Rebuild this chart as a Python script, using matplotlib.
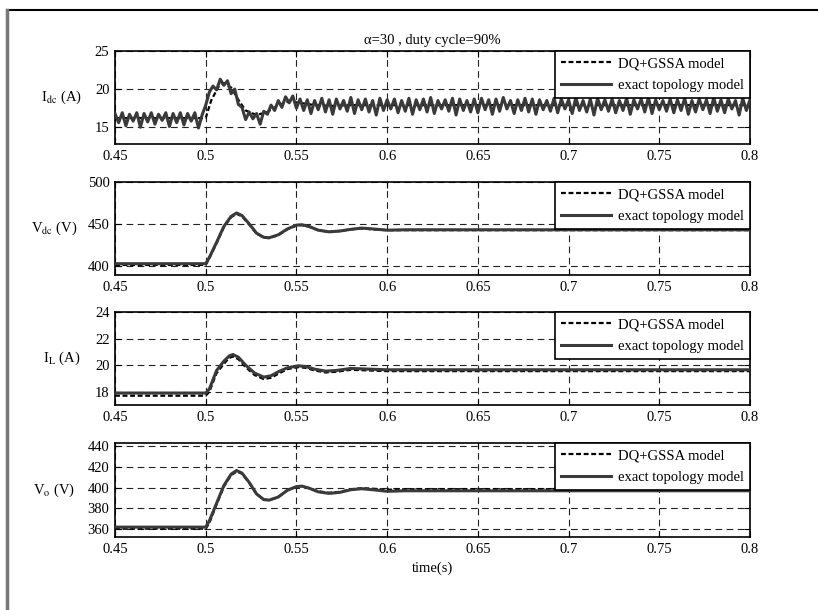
import numpy as np
import matplotlib.pyplot as plt
from matplotlib.lines import Line2D

plt.rcParams['font.family'] = ['Liberation Serif', 'DejaVu Serif']
plt.rcParams['mathtext.fontset'] = 'stix'

# ---- data ----
# I_dc, exact topology model, sampled every 2 ms from 0.45 s
t_idc = np.round(0.45 + 0.002 * np.arange(176), 3)
idc_exact = [
    16.8, 15.6, 16.9, 15.2, 16.7, 15.8, 16.9, 15.0, 16.8, 15.7,
    16.9, 15.4, 16.7, 15.9, 16.9, 15.1, 16.8, 15.6, 16.9, 15.3,
    16.8, 15.8, 16.9, 14.9, 16.6,
    17.9, 19.6, 20.4, 19.9, 21.3, 20.5, 21.1, 19.4, 20.0, 18.0,
    17.6, 16.0, 17.0, 16.1, 16.8, 15.4, 17.1, 16.7, 17.9, 17.2,
    18.5, 17.6, 19.0, 18.2, 19.1, 17.5, 18.7, 17.2, 18.6, 16.8,
    18.5,
    17.3, 18.8, 17.0, 18.6, 16.7, 18.7, 17.4, 18.5, 17.1, 18.9,
    16.8, 18.6, 17.3, 18.7, 17.0, 18.5, 16.6, 18.8, 17.2, 18.6,
    17.4, 18.7, 16.9, 18.5, 17.1, 18.8, 16.7, 18.6, 17.3, 18.7,
    17.0, 18.9, 16.8, 18.5, 17.4, 18.6, 17.1, 18.8, 16.6, 18.7,
    17.2, 18.5, 17.0, 18.7, 16.9, 18.8, 17.3, 18.6, 16.7, 18.7,
    17.1, 18.9, 17.4, 18.5, 16.8, 18.6, 17.2, 18.8, 17.0, 18.7,
    16.7, 18.6, 17.3, 18.5, 17.1, 18.8, 16.9, 18.7, 17.4, 18.6,
    16.8, 18.9, 17.2, 18.5, 17.0, 18.7, 16.6, 18.8, 17.3, 18.6,
    17.1, 18.7, 16.9, 18.5, 17.2, 18.8, 16.7, 18.6, 17.4, 18.7,
    17.0, 18.9, 16.8, 18.6, 17.3, 18.5, 17.1, 18.7, 16.9, 18.6,
    17.2, 18.8, 16.7, 18.5, 17.0, 18.7, 17.3, 18.6, 16.8, 18.9,
    17.1, 18.6, 16.9, 18.7, 17.4, 18.5, 16.6, 18.8, 17.2, 18.6,
]
t_idc_dq = [0.45, 0.5, 0.503, 0.507, 0.51, 0.514, 0.518, 0.522, 0.528, 0.534,
            0.54, 0.546, 0.552, 0.56, 0.57, 0.58, 0.6, 0.8]
idc_dq = [16.2, 16.2, 18.5, 20.3, 20.8, 20.2, 18.6, 17.2, 16.6, 17.0,
          17.9, 18.4, 18.2, 17.9, 17.8, 17.9, 17.9, 17.9]

# V_dc
t_vdc = [0.45, 0.5, 0.502, 0.506, 0.51, 0.514, 0.517, 0.52, 0.524, 0.528,
         0.532, 0.535, 0.54, 0.545, 0.55, 0.553, 0.557, 0.562, 0.568, 0.574,
         0.58, 0.586, 0.592, 0.6, 0.61, 0.62, 0.8]
vdc_exact = [402.5, 402.5, 410, 428, 447, 459, 463, 460, 450, 439,
             434, 433.5, 437, 444, 448.5, 449, 447, 442.5, 440.5, 441.5,
             443.5, 445, 444, 442.5, 443, 443, 443]
vdc_dq = [401, 401, 409, 427, 446, 458, 462, 459, 449, 438.5,
          433.5, 433, 436.5, 443.5, 448, 448.5, 446.5, 442.5, 440.5, 441.5,
          443.5, 444.5, 443.5, 442.5, 442.5, 442.5, 442.5]

# I_L
t_il = [0.45, 0.5, 0.502, 0.506, 0.51, 0.513, 0.515, 0.518, 0.522, 0.527,
        0.532, 0.536, 0.54, 0.545, 0.551, 0.555, 0.56, 0.566, 0.572, 0.58,
        0.59, 0.6, 0.8]
il_exact = [17.9, 17.9, 18.2, 19.6, 20.3, 20.7, 20.8, 20.6, 20.0, 19.4,
            19.1, 19.2, 19.5, 19.8, 19.95, 19.9, 19.7, 19.55, 19.6, 19.75,
            19.7, 19.65, 19.65]
il_dq = [17.7, 17.7, 18.0, 19.4, 20.1, 20.55, 20.65, 20.45, 19.85, 19.25,
         18.95, 19.05, 19.35, 19.7, 19.85, 19.8, 19.6, 19.45, 19.5, 19.65,
         19.6, 19.55, 19.55]

# V_o
t_vo = t_vdc
vo_exact = [362, 362, 368, 385, 402, 413, 416.5, 414, 405, 394,
            388.5, 388, 391, 397.5, 401, 401.5, 399.5, 396, 394.5, 395.5,
            398, 399, 398, 396.5, 397, 397, 397]
vo_dq = [360.5, 360.5, 366, 384, 401, 412, 415.5, 413.5, 404.5, 394,
         388.5, 388, 391, 397.5, 401, 401.5, 399.5, 396.5, 395, 396,
         398.5, 399.5, 399, 398, 398.5, 398.5, 398.5]

panels = [
    (t_idc, idc_exact, t_idc_dq, idc_dq, r'I$_{\rm dc}$ (A)', (12.8, 25), [15, 20, 25]),
    (t_vdc, vdc_exact, t_vdc, vdc_dq, r'V$_{\rm dc}$ (V)', (389, 500), [400, 450, 500]),
    (t_il, il_exact, t_il, il_dq, r'I$_{\rm L}$ (A)', (17, 24), [18, 20, 22, 24]),
    (t_vo, vo_exact, t_vo, vo_dq, r'V$_{\rm o}$ (V)', (352.5, 443), [360, 380, 400, 420, 440]),
]

W, H = 818, 610
fig = plt.figure(figsize=(W / 100, H / 100), dpi=100)

# axes placement in pixels (top, bottom)
rows = [(51, 144), (182, 275), (312, 405), (443, 537)]
left, right = 115, 750

xticks = [0.45, 0.5, 0.55, 0.6, 0.65, 0.7, 0.75, 0.8]

for i, ((te, ye, td, yd, lab, ylim, yt), (top, bot)) in enumerate(zip(panels, rows)):
    ax = fig.add_axes([left / W, 1 - bot / H, (right - left) / W, (bot - top) / H])
    ax.plot(td, yd, color='k', ls='--', lw=1.6, dashes=(2.2, 1.2), label='DQ+GSSA model', zorder=2)
    ax.plot(te, ye, color='#3a3a3a', lw=2.2, label='exact topology model', zorder=3)
    ax.set_xlim(0.45, 0.8)
    ax.set_ylim(*ylim)
    ax.set_xticks(xticks)
    ax.set_xticklabels(['0.45', '0.5', '0.55', '0.6', '0.65', '0.7', '0.75', '0.8'])
    ax.set_yticks(yt)
    ax.grid(True, color='#222222', ls=(0, (6, 4)), lw=0.8)
    ax.tick_params(direction='in', labelsize=10.5, length=4, top=True, right=True, pad=4)
    for s in ax.spines.values():
        s.set_linewidth(1.2)
    ax.set_ylabel(lab, rotation=0, fontsize=10.5, labelpad=24, va='center')
    leg = ax.legend(loc='upper right', borderaxespad=0, fontsize=10.5, fancybox=False,
                    framealpha=1, edgecolor='k', handlelength=3.4, handletextpad=0.5,
                    borderpad=0.4, labelspacing=0.6)
    leg.get_frame().set_linewidth(1.2)
    if i == 0:
        ax.set_title('α=30 , duty cycle=90%', fontsize=10.5, pad=5)
    if i == 3:
        ax.set_xlabel('time(s)', fontsize=10.5, labelpad=4)

# outer page frame
fig.add_artist(Line2D([7 / W, 1], [1 - 10 / H, 1 - 10 / H], color='k', lw=1.5))
fig.add_artist(Line2D([7 / W, 7 / W], [0, 1 - 10 / H], color='#777777', lw=2.5))

fig.savefig('out.png', dpi=100)
